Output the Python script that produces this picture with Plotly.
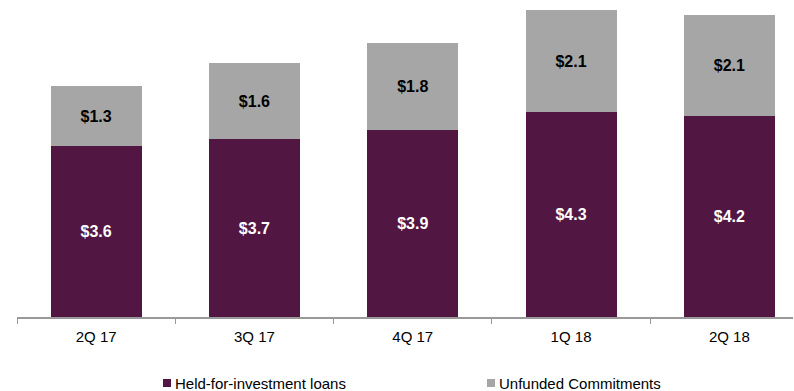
import plotly.graph_objects as go

categories = ["2Q 17", "3Q 17", "4Q 17", "1Q 18", "2Q 18"]
held_for_investment = [3.57, 3.72, 3.92, 4.29, 4.20]
unfunded_commitments = [1.27, 1.59, 1.81, 2.13, 2.11]
legend_labels = ["Held-for-investment loans", "Unfunded Commitments"]

PURPLE = "#511641"
GRAY = "#A6A6A6"
FONT = "Liberation Sans, Arial, sans-serif"

W, H = 794, 391
ML, MR, MT, MB = 17, 1, 5, 74
plot_w = W - ML - MR
plot_h = H - MT - MB
cat_px = 158.3
px_per_unit = 47.8

fig = go.Figure()
fig.add_trace(go.Bar(
    x=categories, y=held_for_investment, name=legend_labels[0],
    marker=dict(color=PURPLE, line=dict(width=0)),
    texttemplate="$%{y:.1f}", textposition="inside", insidetextanchor="middle",
    textfont=dict(color="white", size=16, family=FONT, weight="bold"),
    showlegend=False, hoverinfo="skip",
))
fig.add_trace(go.Bar(
    x=categories, y=unfunded_commitments, name=legend_labels[1],
    marker=dict(color=GRAY, line=dict(width=0)),
    texttemplate="$%{y:.1f}", textposition="inside", insidetextanchor="middle",
    textfont=dict(color="black", size=16, family=FONT, weight="bold"),
    showlegend=False, hoverinfo="skip",
))

# custom legend
legend_items = [
    (163, legend_labels[0], PURPLE),
    (487, legend_labels[1], GRAY),
]
legend_y_px = 383
for x0, label, color in legend_items:
    fig.add_shape(
        type="rect", xref="paper", yref="paper",
        x0=(x0 - ML) / plot_w, x1=(x0 + 8 - ML) / plot_w,
        y0=(H - MB - (legend_y_px + 4)) / plot_h, y1=(H - MB - (legend_y_px - 4)) / plot_h,
        fillcolor=color, line=dict(width=0),
    )
    fig.add_annotation(
        xref="paper", yref="paper",
        x=(x0 + 10 - ML) / plot_w, y=(H - MB - legend_y_px) / plot_h,
        text=label, showarrow=False, xanchor="left", yanchor="middle",
        font=dict(size=15, family=FONT, color="black"),
    )

fig.update_layout(
    barmode="stack",
    bargap=0.425,
    width=W, height=H,
    margin=dict(l=ML, r=MR, t=MT, b=MB),
    paper_bgcolor="white", plot_bgcolor="white",
    font=dict(family=FONT, size=15, color="black"),
    xaxis=dict(
        range=[-0.5, -0.5 + plot_w / cat_px],
        tickson="boundaries", ticks="outside", ticklen=5, tickcolor="#999999",
        ticklabelstandoff=5,
        showline=True, linecolor="#999999", linewidth=2,
        tickfont=dict(size=15, family=FONT, color="black"),
        showgrid=False, zeroline=False, fixedrange=True,
    ),
    yaxis=dict(
        range=[0, plot_h / px_per_unit], visible=False,
        showgrid=False, zeroline=False, fixedrange=True,
    ),
)

fig.write_html("out.html")
